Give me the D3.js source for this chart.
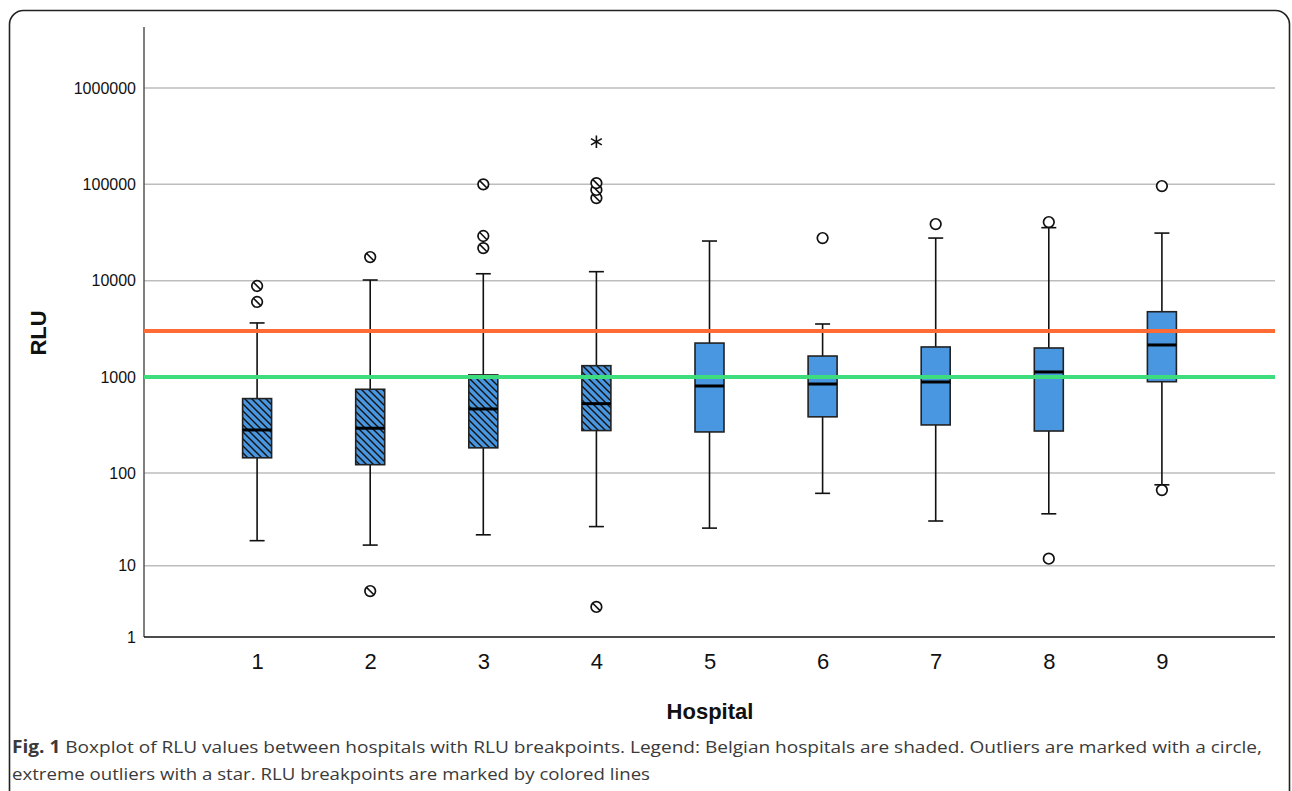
<!DOCTYPE html>
<html>
<head>
<meta charset="utf-8">
<script src="https://cdn.jsdelivr.net/npm/d3@7"></script>
<style>
  body { margin: 0; background: #fff; }
  svg { display: block; }
</style>
</head>
<body>
<div id="chart"></div>
<script>
// Hospitals and box statistics (RLU)
var hospitals = ["1", "2", "3", "4", "5", "6", "7", "8", "9"];
var shaded = [true, true, true, true, false, false, false, false, false];
var whiskerLow = [19, 17, 22, 27, 26, 61, 31, 37, 75];
var q1 = [144, 122, 183, 277, 268, 385, 317, 274, 893];
var median = [281, 293, 465, 528, 806, 845, 887, 1127, 2150];
var q3 = [596, 745, 1050, 1310, 2250, 1650, 2050, 2000, 4760];
var whiskerHigh = [3640, 10160, 11800, 12400, 25800, 3550, 27700, 35500, 31200];
var outliers = [
  [6010, 8810],
  [5, 17600],
  [21800, 29100, 100000],
  [3.1, 72100, 87500, 103000],
  [],
  [27700],
  [38700],
  [12, 40600],
  [66, 96000]
];
var extremes = [[], [], [], [277000], [], [], [], [], []];

// Axis ticks and breakpoints
var yTicks = [1, 10, 100, 1000, 10000, 100000, 1000000];
var breakpoints = [3000, 1000];
var breakpointColors = ["#ff6a35", "#3ddd7d"];

var width = 1292;
var height = 791;

// Plot area
var plotLeft = 144, plotRight = 1275, plotTop = 27, plotBottom = 637;
var step = (plotRight - plotLeft) / 10;
var boxWidth = 29;
var capWidth = 15;

var svg = d3.select("#chart")
  .append("svg")
  .attr("width", width)
  .attr("height", height);

// Hatch pattern for Belgian hospitals
var defs = svg.append("defs");
var hatch = defs.append("pattern")
  .attr("id", "hatch")
  .attr("patternUnits", "userSpaceOnUse")
  .attr("width", 7)
  .attr("height", 7);
hatch.append("rect").attr("width", 7).attr("height", 7).attr("fill", "#4a97e1");
hatch.append("path")
  .attr("d", "M0,0 L7,7 M-1,6 L1,8 M6,-1 L8,1")
  .attr("stroke", "#111")
  .attr("stroke-width", 1.4);

// Frame
svg.append("rect")
  .attr("x", 9.5)
  .attr("y", 10.5)
  .attr("width", 1280)
  .attr("height", 820)
  .attr("rx", 14)
  .attr("fill", "none")
  .attr("stroke", "#222")
  .attr("stroke-width", 1.6);

// Scales (safe log: log(1 + x))
var yScale = d3.scaleSymlog()
  .constant(1)
  .domain([1, 4.3e6])
  .range([plotBottom, plotTop]);

var xScale = d3.scalePoint()
  .domain(hospitals)
  .range([plotLeft + step, plotRight - step]);

// Gridlines
svg.append("g")
  .selectAll("line")
  .data(yTicks.slice(1))
  .enter()
  .append("line")
  .attr("x1", plotLeft)
  .attr("x2", plotRight)
  .attr("y1", function(d) { return yScale(d); })
  .attr("y2", function(d) { return yScale(d); })
  .attr("stroke", "#bdbdbd")
  .attr("stroke-width", 1.5);

// Y axis
var yAxis = d3.axisLeft(yScale)
  .tickValues(yTicks)
  .tickFormat(d3.format("d"))
  .tickSize(0)
  .tickPadding(8);

var yG = svg.append("g")
  .attr("transform", "translate(" + plotLeft + ",0)")
  .call(yAxis);
yG.select(".domain").remove();
yG.selectAll("text")
  .attr("font-family", "Liberation Sans, Arial, sans-serif")
  .attr("font-size", "16px")
  .attr("fill", "#111");

svg.append("line")
  .attr("x1", plotLeft).attr("x2", plotLeft)
  .attr("y1", plotTop).attr("y2", plotBottom)
  .attr("stroke", "#555")
  .attr("stroke-width", 1.5);

// X axis
var xAxis = d3.axisBottom(xScale).tickSize(0).tickPadding(16);
var xG = svg.append("g")
  .attr("transform", "translate(0," + plotBottom + ")")
  .call(xAxis);
xG.select(".domain").remove();
xG.selectAll("text")
  .attr("font-family", "Liberation Sans, Arial, sans-serif")
  .attr("font-size", "22px")
  .attr("fill", "#111");

svg.append("line")
  .attr("x1", plotLeft).attr("x2", plotRight)
  .attr("y1", plotBottom).attr("y2", plotBottom)
  .attr("stroke", "#111")
  .attr("stroke-width", 1.5);

// Boxes
var idx = d3.range(hospitals.length);
var boxes = svg.append("g").selectAll("g").data(idx).enter().append("g");

// Whiskers
boxes.append("line")
  .attr("x1", function(i) { return xScale(hospitals[i]); })
  .attr("x2", function(i) { return xScale(hospitals[i]); })
  .attr("y1", function(i) { return yScale(whiskerLow[i]); })
  .attr("y2", function(i) { return yScale(whiskerHigh[i]); })
  .attr("stroke", "#111")
  .attr("stroke-width", 1.6);

[whiskerLow, whiskerHigh].forEach(function(arr) {
  boxes.append("line")
    .attr("x1", function(i) { return xScale(hospitals[i]) - capWidth / 2; })
    .attr("x2", function(i) { return xScale(hospitals[i]) + capWidth / 2; })
    .attr("y1", function(i) { return yScale(arr[i]); })
    .attr("y2", function(i) { return yScale(arr[i]); })
    .attr("stroke", "#111")
    .attr("stroke-width", 1.6);
});

boxes.append("rect")
  .attr("x", function(i) { return xScale(hospitals[i]) - boxWidth / 2; })
  .attr("y", function(i) { return yScale(q3[i]); })
  .attr("width", boxWidth)
  .attr("height", function(i) { return yScale(q1[i]) - yScale(q3[i]); })
  .attr("fill", function(i) { return shaded[i] ? "url(#hatch)" : "#4a97e1"; })
  .attr("stroke", "#222")
  .attr("stroke-width", 1.6);

boxes.append("line")
  .attr("x1", function(i) { return xScale(hospitals[i]) - boxWidth / 2; })
  .attr("x2", function(i) { return xScale(hospitals[i]) + boxWidth / 2; })
  .attr("y1", function(i) { return yScale(median[i]); })
  .attr("y2", function(i) { return yScale(median[i]); })
  .attr("stroke", "#000")
  .attr("stroke-width", 3);

// Outliers
var outlierData = [];
idx.forEach(function(i) {
  outliers[i].forEach(function(v) { outlierData.push({ h: hospitals[i], v: v, shaded: shaded[i] }); });
});

var outG = svg.append("g").selectAll("g").data(outlierData).enter().append("g")
  .attr("transform", function(d) { return "translate(" + xScale(d.h) + "," + yScale(d.v) + ")"; });

outG.append("circle")
  .attr("r", 5.3)
  .attr("fill", "#fff")
  .attr("stroke", "#111")
  .attr("stroke-width", 1.7);

outG.filter(function(d) { return d.shaded; })
  .append("line")
  .attr("x1", -3.7).attr("y1", -3.7)
  .attr("x2", 3.7).attr("y2", 3.7)
  .attr("stroke", "#111")
  .attr("stroke-width", 1.6);

// Extreme outliers
var extremeData = [];
idx.forEach(function(i) {
  extremes[i].forEach(function(v) { extremeData.push({ h: hospitals[i], v: v }); });
});

svg.append("g").selectAll("path").data(extremeData).enter().append("path")
  .attr("d", d3.symbol(d3.symbolAsterisk, 110))
  .attr("transform", function(d) { return "translate(" + xScale(d.h) + "," + yScale(d.v) + ")"; })
  .attr("fill", "none")
  .attr("stroke", "#111")
  .attr("stroke-width", 1.6);

// Breakpoint lines
svg.append("g").selectAll("line").data(breakpoints).enter().append("line")
  .attr("x1", plotLeft)
  .attr("x2", plotRight)
  .attr("y1", function(d) { return yScale(d); })
  .attr("y2", function(d) { return yScale(d); })
  .attr("stroke", function(d, i) { return breakpointColors[i]; })
  .attr("stroke-width", 4);

// Axis titles
svg.append("text")
  .attr("transform", "translate(46,333) rotate(-90)")
  .attr("text-anchor", "middle")
  .attr("font-family", "Liberation Sans, Arial, sans-serif")
  .attr("font-weight", "bold")
  .attr("font-size", "22px")
  .attr("fill", "#111")
  .text("RLU");

svg.append("text")
  .attr("x", 710)
  .attr("y", 719)
  .attr("text-anchor", "middle")
  .attr("font-family", "Liberation Sans, Arial, sans-serif")
  .attr("font-weight", "bold")
  .attr("font-size", "22px")
  .attr("fill", "#111")
  .text("Hospital");

// Caption
var caption = svg.append("text")
  .attr("x", 12)
  .attr("y", 753)
  .attr("font-family", "Open Sans, sans-serif")
  .attr("font-size", "17px")
  .attr("fill", "#3a3a3a")
  .attr("textLength", 1250)
  .attr("lengthAdjust", "spacingAndGlyphs");
caption.append("tspan").attr("font-weight", "bold").text("Fig. 1");
caption.append("tspan").text(" Boxplot of RLU values between hospitals with RLU breakpoints. Legend: Belgian hospitals are shaded. Outliers are marked with a circle,");

svg.append("text")
  .attr("x", 12)
  .attr("y", 780)
  .attr("font-family", "Open Sans, sans-serif")
  .attr("font-size", "17px")
  .attr("fill", "#3a3a3a")
  .attr("textLength", 638)
  .attr("lengthAdjust", "spacingAndGlyphs")
  .text("extreme outliers with a star. RLU breakpoints are marked by colored lines");
</script>
</body>
</html>
